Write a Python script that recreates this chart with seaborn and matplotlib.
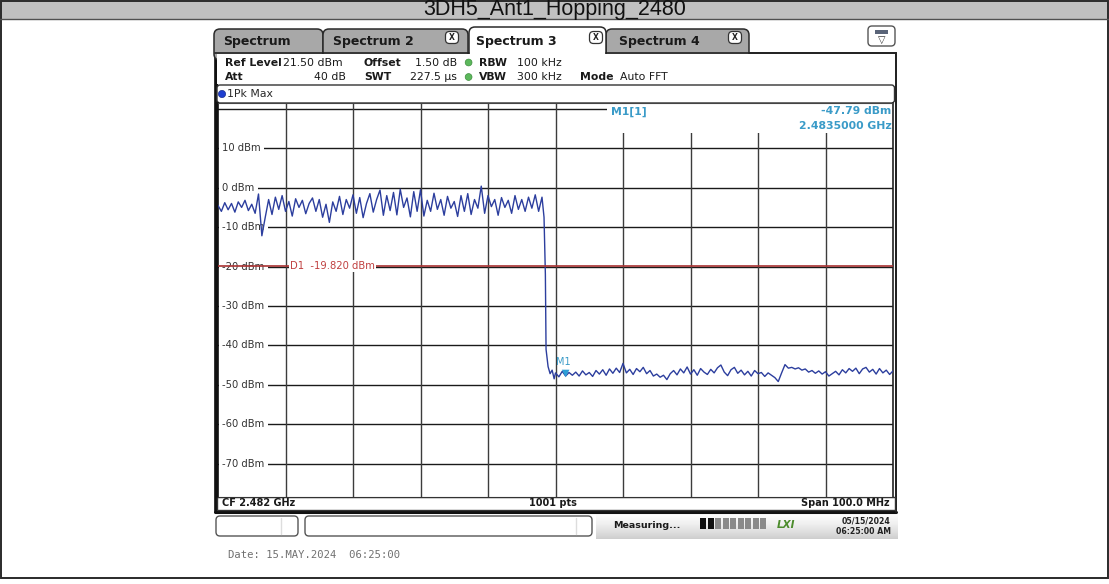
import numpy as np
import pandas as pd
import matplotlib
matplotlib.use("Agg")
import matplotlib.pyplot as plt
import matplotlib.transforms as mtransforms
from matplotlib.patches import Rectangle, FancyBboxPatch, Circle
import seaborn as sns

TITLE = "3DH5_Ant1_Hopping_2480"

# Sweep / display settings
START_MHZ = 2432.0
STOP_MHZ = 2532.0
REF_LEVEL = 21.5
RANGE_DB = 100.0
POINTS = 1001

# In-band part of the max-hold trace: 2432.0 ... 2480.0 MHz, 0.5 MHz apart
inband_start, inband_step = 2432.0, 0.5
inband_dbm = [
    -4.5, -6.0, -3.8, -5.6, -4.0, -6.2, -3.6, -5.0, -3.2, -5.8,
    -4.2, -6.5, -1.6, -12.2, -7.5, -3.0, -6.8, -2.4, -5.5, -2.0,
    -6.0, -3.5, -7.2, -2.8, -5.0, -3.2, -6.6, -4.0, -2.6, -6.0,
    -3.0, -7.5, -4.2, -8.8, -3.6, -6.0, -2.2, -6.8, -3.0, -5.2,
    -1.8, -6.5, -2.5, -7.6, -4.0, -1.5, -6.2, -3.0, -0.6, -7.0,
    -2.0, -5.8, -1.2, -6.9, -0.4, -5.0, -2.6, -7.4, -1.0, -6.0,
    -0.5, -7.2, -3.2, -6.0, -1.4, -5.5, -3.0, -7.0, -2.2, -5.2,
    -3.5, -7.3, -2.0, -6.0, -1.5, -6.8, -3.0, -5.2, 0.4, -6.5,
    -2.0, -4.8, -3.0, -7.0, -2.5, -5.0, -3.2, -6.5, -2.0, -5.5,
    -3.0, -6.0, -2.4, -5.2, -1.8, -6.0, -2.4,
]

# Roll-off at the upper band edge
edge_mhz = [2480.3, 2480.5, 2480.6, 2480.9, 2481.2, 2481.5, 2481.8]
edge_dbm = [-7.5, -22.0, -41.0, -45.4, -47.2, -46.3, -48.5]

# Out-of-band noise floor: 2482.0 ... 2532.0 MHz, 0.5 MHz apart
outband_start, outband_step = 2482.0, 0.5
outband_dbm = [
    -47.0, -48.0, -46.6, -47.79, -46.9, -47.6, -46.8, -47.8, -46.5, -47.5,
    -46.9, -47.9, -46.4, -47.3, -46.2, -47.6, -46.0, -47.1, -45.8, -46.9,
    -44.6, -47.0, -46.1, -47.4, -45.9, -46.7, -45.6, -47.2, -46.4, -47.8,
    -47.3, -48.1, -47.6, -48.7, -47.2, -46.4, -47.5, -46.0, -47.0, -45.5,
    -47.3, -46.2, -47.6, -45.9, -46.8, -47.4, -46.1, -47.0, -45.7, -45.0,
    -46.8, -47.7, -46.2, -45.6, -47.1, -46.3, -47.5, -46.6, -47.8, -46.4,
    -47.2, -46.9, -47.9, -47.0, -47.6, -48.2, -49.2, -47.0, -44.9, -45.8,
    -45.6, -46.0, -45.7, -46.3, -46.0, -46.8, -46.4, -47.1, -46.5, -47.3,
    -46.7, -47.8, -47.2, -46.6, -47.5, -46.2, -47.0, -45.9, -46.6, -45.8,
    -47.2, -46.0, -45.6, -46.8, -46.1, -47.3, -45.9, -47.0, -46.3, -47.4,
    -46.5,
]

marker_mhz = 2483.5
marker_dbm = -47.79
d1_dbm = -19.82

ygrid_values = [20, 10, 0, -10, -20, -30, -40, -50, -60, -70]
ylabel_values = [10, 0, -10, -20, -30, -40, -50, -60, -70]
ylabel_texts = [f"{v} dBm" for v in ylabel_values]

tab_names = ["Spectrum", "Spectrum 2", "Spectrum 3", "Spectrum 4"]

# ---------------------------------------------------------------------------
sns.set_style("white")
plt.rcParams["font.family"] = ["DejaVu Sans"]

W, H = 1109, 584
fig = plt.figure(figsize=(W / 100, H / 100), dpi=100)
fig.patch.set_facecolor("white")


def pixel_axes(z):
    a = fig.add_axes([0, 0, 1, 1], zorder=z)
    a.set_xlim(0, W)
    a.set_ylim(H, 0)
    a.axis("off")
    a.patch.set_alpha(0)
    return a


bg = pixel_axes(0)

# Window title bar and outer frame
bg.add_patch(Rectangle((0, 0), W, 19, fc="#c0c0c0", ec="none"))
bg.plot([0, W], [19, 19], color="#505050", lw=1)
bg.add_patch(Rectangle((1, 0.5), W - 2.5, 577, fill=False, ec="#2a2a2a", lw=1.4))
bg.text(W / 2, 9.5, TITLE, ha="center", va="center", fontsize=15.5,
        family="Liberation Sans", color="#111111")

# Instrument panel
bg.add_patch(Rectangle((215, 53), 681, 459, fc="white", ec="#222222", lw=1.3))
bg.plot([215, 896], [511.5, 511.5], color="#111111", lw=2.2)
bg.plot([215.5, 215.5], [53, 512], color="#111111", lw=2.2)

# Tabs
tab_spans = [(214, 323), (323, 468), (469, 606), (606, 749)]
tab_text_x = [223, 333, 476, 619]
close_x = [None, 452, 596, 735]
for k, ((x0, x1), name) in enumerate(zip(tab_spans, tab_names)):
    active = name == "Spectrum 3"
    top = 27 if active else 29
    bg.add_patch(FancyBboxPatch((x0, top), x1 - x0, 60 - top,
                                boxstyle="round,pad=0,rounding_size=6",
                                fc="white" if active else "#a8a8a8",
                                ec="#2a2a2a", lw=1.1, zorder=2 + (1 if active else 0)))
    bg.text(tab_text_x[k], 41, name, ha="left", va="center", fontsize=9,
            fontweight="bold", color="#1a1a1a", zorder=5)
    if close_x[k] is not None:
        cx = close_x[k]
        bg.add_patch(FancyBboxPatch((cx - 6.5, 31.5), 13, 12,
                                    boxstyle="round,pad=0,rounding_size=4",
                                    fc="white", ec="#333333", lw=0.9, zorder=5))
        bg.text(cx, 37.7, "X", ha="center", va="center", fontsize=5.5,
                fontweight="bold", color="#222222", zorder=6)
# cover the lower part of the tabs with the panel body
bg.add_patch(Rectangle((216.5, 53.6), 678.7, 30, fc="white", ec="none", zorder=4))
bg.plot([215, 469], [53, 53], color="#222222", lw=1.2, zorder=4)
bg.plot([606, 896], [53, 53], color="#222222", lw=1.2, zorder=4)
bg.plot([895.5, 895.5], [53, 512], color="#222222", lw=1.3, zorder=4)

# Display-config icon
bg.add_patch(FancyBboxPatch((868, 26), 27, 20, boxstyle="round,pad=0,rounding_size=4",
                            fc="white", ec="#555555", lw=1, zorder=5))
bg.add_patch(Rectangle((875, 29.5), 13, 4, fc="#5a6478", ec="none", zorder=6))
bg.text(881.5, 40, "\u25bd", ha="center", va="center", fontsize=7, color="#333333", zorder=6)

# Setting readouts
hdr = dict(va="center", fontsize=7.8, color="#1a1a1a", zorder=6)
r1, r2 = 62.5, 77.0
bg.text(225, r1, "Ref Level", fontweight="bold", **hdr)
bg.text(283, r1, f"{REF_LEVEL:.2f} dBm", **hdr)
bg.text(364, r1, "Offset", fontweight="bold", **hdr)
bg.text(457, r1, "1.50 dB", ha="right", **hdr)
bg.text(479, r1, "RBW", fontweight="bold", **hdr)
bg.text(517, r1, "100 kHz", **hdr)
bg.text(225, r2, "Att", fontweight="bold", **hdr)
bg.text(346, r2, "40 dB", ha="right", **hdr)
bg.text(364, r2, "SWT", fontweight="bold", **hdr)
bg.text(457, r2, "227.5 \u00b5s", ha="right", **hdr)
bg.text(479, r2, "VBW", fontweight="bold", **hdr)
bg.text(517, r2, "300 kHz", **hdr)
bg.text(580, r2, "Mode", fontweight="bold", **hdr)
bg.text(620, r2, "Auto FFT", **hdr)
for yy in (r1, r2):
    bg.add_patch(Circle((468.6, yy), 3.4, fc="#5cb85c", ec="#3e8e3e", lw=0.5, zorder=6))

# Trace header box
bg.add_patch(FancyBboxPatch((217, 85), 677.5, 18, boxstyle="round,pad=0,rounding_size=3",
                            fc="white", ec="#333333", lw=1, zorder=6))
bg.add_patch(Circle((222, 94), 3.6, fc="#1f3fd0", ec="#1a2f90", lw=0.5, zorder=7))
bg.text(227, 94, "1Pk Max", va="center", fontsize=7.8, color="#2a2a2a", zorder=7)

# Bottom info strip
bg.add_patch(Rectangle((217, 497), 677.5, 13, fc="white", ec="#333333", lw=1, zorder=6))
strip = dict(va="center", fontsize=7, fontweight="bold", color="#1a1a1a", zorder=7)
bg.text(222, 503.5, f"CF {(START_MHZ + STOP_MHZ) / 2000:.3f} GHz", ha="left", **strip)
bg.text(553, 503.5, f"{POINTS} pts", ha="center", **strip)
bg.text(890, 503.5, f"Span {STOP_MHZ - START_MHZ:.1f} MHz", ha="right", **strip)

# Status bar
bg.add_patch(FancyBboxPatch((216, 516), 82, 20, boxstyle="round,pad=0,rounding_size=4",
                            fc="white", ec="#555555", lw=1))
bg.plot([281, 281], [518, 534], color="#dddddd", lw=1)
bg.add_patch(FancyBboxPatch((305, 516), 287, 20, boxstyle="round,pad=0,rounding_size=4",
                            fc="white", ec="#555555", lw=1))
bg.plot([576, 576], [518, 534], color="#dddddd", lw=1)
grad = np.linspace(0, 1, 50).reshape(-1, 1)
bg.imshow(grad, extent=(596, 898, 539, 514), cmap="Greys", vmin=-0.07, vmax=3.5,
          aspect="auto", zorder=1)
bg.set_xlim(0, W)
bg.set_ylim(H, 0)
bg.text(613, 525, "Measuring...", va="center", fontsize=6.8, fontweight="bold",
        color="#1a1a1a", zorder=3)
for s in range(9):
    bg.add_patch(Rectangle((700 + s * 7.5, 518), 6, 11,
                           fc="#111111" if s < 2 else "#8a8a8a", ec="none", zorder=3))
bg.text(786, 524.5, "LXI", ha="center", va="center", fontsize=7.5, fontweight="bold",
        fontstyle="italic", color="#4c8c2c", zorder=3)
bg.text(891, 520.5, "05/15/2024", ha="right", va="center", fontsize=5.6,
        fontweight="bold", color="#222222", zorder=3)
bg.text(891, 531.5, "06:25:00 AM", ha="right", va="center", fontsize=5.6,
        fontweight="bold", color="#222222", zorder=3)

# Capture time stamp
bg.text(228, 555, "Date: 15.MAY.2024  06:25:00", va="center", fontsize=7.6,
        family="DejaVu Sans Mono", color="#707070")

# ---------------------------------------------------------------------------
# Spectrum diagram
ax = fig.add_axes([218 / W, 1 - 497 / H, 675 / W, 394 / H], zorder=2)
ax.set_facecolor("white")

inband_mhz = inband_start + inband_step * np.arange(len(inband_dbm))
outband_mhz = outband_start + outband_step * np.arange(len(outband_dbm))
trace = pd.DataFrame({
    "freq": np.concatenate([inband_mhz, edge_mhz, outband_mhz]),
    "level": np.concatenate([inband_dbm, edge_dbm, outband_dbm]),
})

for v in ygrid_values:
    ax.axhline(v, color="#1a1a1a", lw=1, zorder=1)
for f in np.arange(START_MHZ + 10, STOP_MHZ, 10):
    ax.axvline(f, color="#3c3c3c", lw=1, zorder=1)

px_mhz = (STOP_MHZ - START_MHZ) / 675
px_db = RANGE_DB / 394

for v, lab in zip(ylabel_values, ylabel_texts):
    ax.text(START_MHZ + 4 * px_mhz, v, lab, ha="left", va="center", fontsize=7.2,
            color="#333333", zorder=2,
            bbox=dict(boxstyle="square,pad=0.35", fc="white", ec="none"))

sns.lineplot(data=trace, x="freq", y="level", ax=ax, color="#2c3e9e", linewidth=1.0,
             estimator=None, sort=False, legend=False, zorder=3)

# Display line D1
ax.axhline(d1_dbm, color="#a83232", lw=1.2, zorder=4)
ax.text(START_MHZ + 72 * px_mhz, d1_dbm, f"D1  {d1_dbm:.3f} dBm", ha="left",
        va="center", fontsize=7.2, color="#c04040", zorder=5,
        bbox=dict(boxstyle="square,pad=0.12", fc="white", ec="none"))

# Marker readout field
ax.add_patch(Rectangle((START_MHZ + 389 * px_mhz, REF_LEVEL - 30 * px_db),
                       STOP_MHZ - START_MHZ, 31 * px_db, fc="white", ec="none", zorder=1.5))
mk_color = "#3a9bc8"
ax.text(START_MHZ + 393 * px_mhz, REF_LEVEL - 8.5 * px_db, "M1[1]", ha="left",
        va="center", fontsize=7.8, fontweight="bold", color=mk_color, zorder=6)
ax.text(STOP_MHZ - 1.5 * px_mhz, REF_LEVEL - 8.5 * px_db, f"{marker_dbm:.2f} dBm",
        ha="right", va="center", fontsize=7.8, fontweight="bold", color=mk_color, zorder=6)
ax.text(STOP_MHZ - 1.5 * px_mhz, REF_LEVEL - 23 * px_db, f"{marker_mhz / 1000:.7f} GHz",
        ha="right", va="center", fontsize=7.8, fontweight="bold", color=mk_color, zorder=6)

# Marker M1 on the trace
tri = mtransforms.offset_copy(ax.transData, fig=fig, x=0, y=2.5, units="dots")
ax.scatter([marker_mhz], [marker_dbm], marker="v", s=30, color="#2e9ed6",
           edgecolors="none", transform=tri, zorder=6)
ax.annotate("M1", (marker_mhz, marker_dbm), xytext=(-7, 10), textcoords="offset points",
            ha="left", va="center", fontsize=7, color=mk_color, zorder=6)

ax.set_xlim(START_MHZ, STOP_MHZ)
ax.set_ylim(REF_LEVEL - RANGE_DB, REF_LEVEL)
ax.set_xticks([])
ax.set_yticks([])
ax.set_xlabel("")
ax.set_ylabel("")
for side, (c, lw) in {"left": ("#111111", 1.2), "right": ("#222222", 1.2),
                      "top": ("#444444", 0.8), "bottom": ("#333333", 0.8)}.items():
    ax.spines[side].set_color(c)
    ax.spines[side].set_linewidth(lw)

fig.savefig("out.png", dpi=100, facecolor="white")
